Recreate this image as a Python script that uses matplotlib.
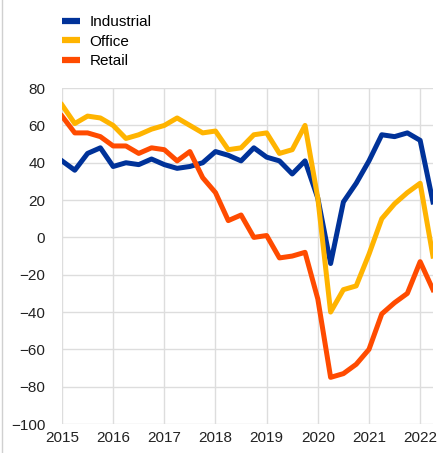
import matplotlib.pyplot as plt
from matplotlib.lines import Line2D

plt.rcParams['font.family'] = ['Liberation Sans', 'DejaVu Sans']

# quarterly readings, 2015 Q1 .. 2022 Q2
quarters = [2015 + i / 4 for i in range(30)]
industrial = [41, 36, 45, 48, 38, 40, 39, 42, 39, 37, 38, 40,
              46, 44, 41, 48, 43, 41, 34, 41, 21, -14, 19, 29,
              41, 55, 54, 56, 52, 19]
office = [71, 61, 65, 64, 60, 53, 55, 58, 60, 64, 60, 56,
          57, 47, 48, 55, 56, 45, 47, 60, 21, -40, -28, -26,
          -9, 10, 18, 24, 29, -10]
retail = [65, 56, 56, 54, 49, 49, 45, 48, 47, 41, 46, 32,
          24, 9, 12, 0, 1, -11, -10, -8, -33, -75, -73, -68,
          -60, -41, -35, -30, -13, -28]
years = list(range(2015, 2023))

fig = plt.figure(figsize=(4.39, 4.53), dpi=100)
ax = fig.add_axes([0.1412, 0.064, 0.845, 0.7415])

ax.plot(quarters, industrial, color='#003299', lw=3.6, label='Industrial')
ax.plot(quarters, office, color='#FFB400', lw=3.6, label='Office')
ax.plot(quarters, retail, color='#FF4B00', lw=3.6, label='Retail')

ax.set_xlim(2015, 2022.25)
ax.set_ylim(-100, 80)
ax.set_yticks(range(-100, 81, 20))
ax.set_xticks(years)
ax.grid(True, color='#dddddd', lw=1)
ax.set_axisbelow(True)
for s in ax.spines.values():
    s.set_visible(False)
ax.tick_params(length=0, labelsize=11, colors='#222222', pad=5)
ax.tick_params(axis='y', pad=12)

leg = fig.legend(loc='upper left', bbox_to_anchor=(0.11, 0.997), frameon=False,
                 fontsize=11, handlelength=1.2, handletextpad=0.6,
                 labelspacing=0.37)
for h in leg.legend_handles:
    h.set_linewidth(4.5)
    h.set_solid_capstyle('butt')

# thin frame line on the left edge
fig.add_artist(Line2D([0.005, 0.005], [0, 1], color='#d0d0d0', lw=1))

fig.savefig('out.png', dpi=100)
